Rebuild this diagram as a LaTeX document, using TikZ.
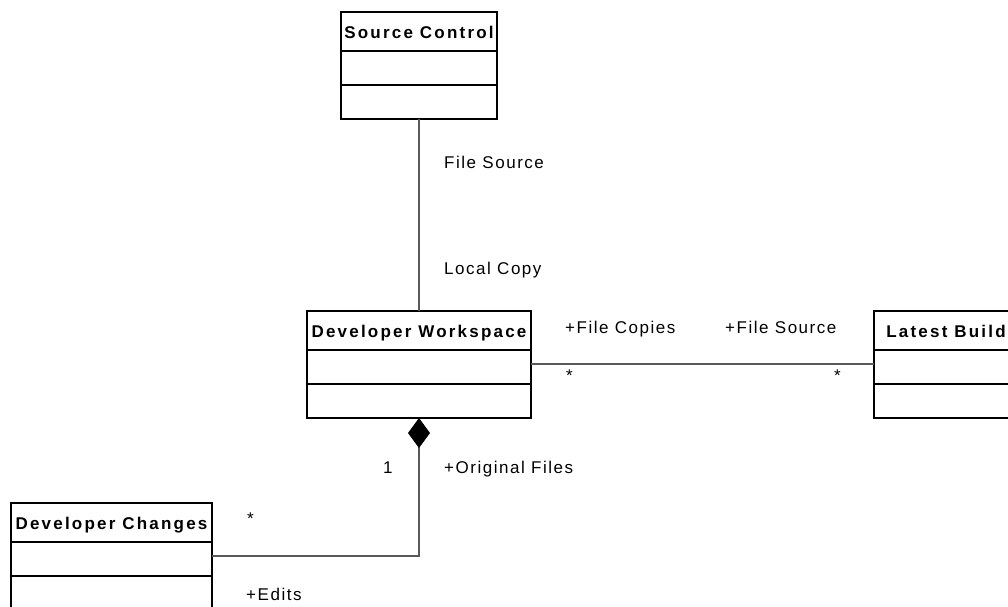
\documentclass[tikz,border=0pt]{standalone}
\usepackage{fontspec}
\setmainfont{Liberation Sans}
\newfontfamily\lblfont[LetterSpace=9]{Liberation Sans}
\newfontfamily\hdfont[LetterSpace=13]{Liberation Sans}
\usetikzlibrary{arrows.meta}
\begin{document}
\begin{tikzpicture}[x=1pt,y=-1pt,
  lbl/.style={anchor=base west,inner sep=0,font=\lblfont\fontsize{17pt}{20pt}\selectfont},
  classhead/.style={draw,line width=2pt,outer sep=0,inner sep=0,anchor=north,minimum height=39pt,text height=13pt,text depth=0pt,font=\hdfont\bfseries\fontsize{17pt}{20pt}\selectfont},
  classpart/.style={draw,line width=2pt,outer sep=0,inner sep=0,anchor=north,minimum height=34pt},
  assoc/.style={draw=black!65,line width=1.2pt}]
  \useasboundingbox (0,0) rectangle (1008,606);

  \foreach \nm/\x/\y/\w/\txt in {sc/419/12/156/{Source Control},dw/419/311/224/{Developer Workspace},lb/946/311/144/{Latest Build},dc/111.5/503/201/{Developer Changes}} {
    \node[classhead,minimum width=\w pt] (\nm) at (\x,\y) {\txt};
    \node[classpart,minimum width=\w pt] (\nm a) at (\nm.south) {};
    \node[classpart,minimum width=\w pt] (\nm o) at (\nm a.south) {};
  }

  \draw[assoc] (sco.south) -- (dw.north);
  \draw[assoc] ([yshift=3pt]dwa.east) -- ([yshift=3pt]lba.west);
  \draw[assoc,-{Diamond[length=30pt,width=22pt,color=black,fill=black]}] ([yshift=3pt]dca.east) -| (dwo.south);

  \node[lbl] (scrole) at (444,168) {File Source};
  \node[lbl] (dwrole) at (444,274) {Local Copy};
  \node[lbl] (cprole) at (565,333) {+File Copies};
  \node[lbl] (lbrole) at (725,333) {+File Source};
  \node[lbl] (cpmult) at (566,381) {*};
  \node[lbl] (lbmult) at (834,381) {*};
  \node[lbl] (ofmult) at (383,473) {1};
  \node[lbl] (ofrole) at (444,473) {+Original Files};
  \node[lbl] (edmult) at (247,524) {*};
  \node[lbl] (edrole) at (246,600) {+Edits};
\end{tikzpicture}
\end{document}
